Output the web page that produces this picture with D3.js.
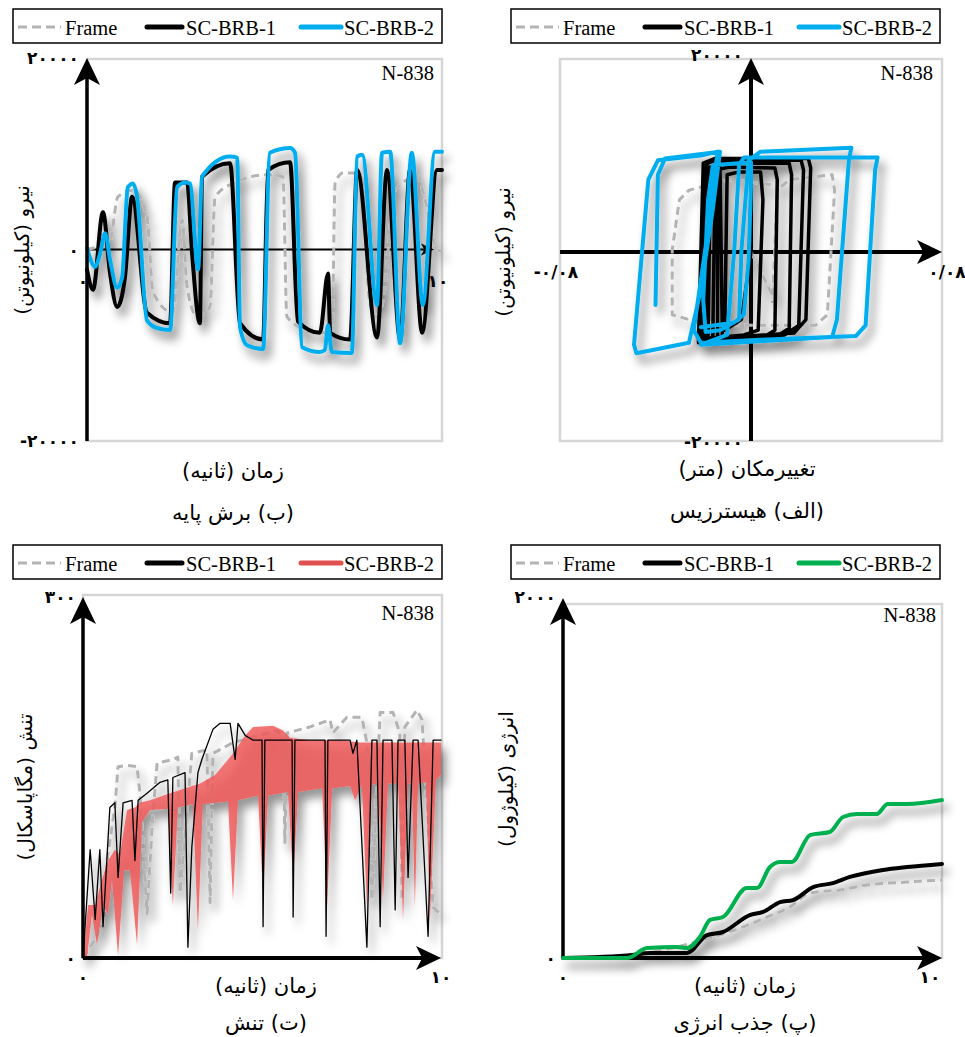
<!DOCTYPE html>
<html>
<head>
<meta charset="utf-8">
<script src="https://cdn.jsdelivr.net/npm/d3@7"></script>
<style>
  body { margin: 0; background: #fff; }
  svg { display: block; }
  .lat { font-family: "Liberation Serif", "Times New Roman", serif; }
  .fa { font-family: "DejaVu Sans", sans-serif; }
</style>
</head>
<body>
<svg id="chart" width="965" height="1037"></svg>
<script>
// ---------- data ----------
// (ب) base shear: [time (s), force (kN)]
const shearFrame = [[0,0],[0.65,1000],[0.87,5500],[1.30,6200],[1.69,3400],[1.86,-4500],[2.42,-6600],[2.68,3100],[2.82,-3900],[3.10,-7000],[3.46,-6000],[3.61,5500],[4.11,6900],[5.07,7800],[5.52,7600],[5.63,-7000],[6.20,-8400],[6.90,-8700],[6.99,6900],[7.21,8000],[7.69,8000],[7.97,-5600],[8.17,-7000],[8.34,-5300],[8.68,6200],[9.32,7600],[9.52,5200],[9.86,0],[10,-200]];
const shearBRB1 = [[0,-2100],[0.17,-4200],[0.45,3900],[0.65,-2500],[0.85,-6000],[1.07,-2900],[1.27,5500],[1.69,-6600],[2.34,-7700],[2.48,7000],[2.82,7000],[2.96,-400],[3.18,-7700],[3.24,7600],[4.03,9000],[4.31,-7700],[4.96,-9400],[5.10,8300],[5.72,9100],[5.94,-7500],[6.56,-8700],[6.79,-2500],[6.85,-8700],[7.41,-9400],[7.61,8300],[8.17,-9200],[8.45,8300],[8.82,-9400],[9.10,8300],[9.44,-8700],[9.86,8300],[10,8300]];
const shearBRB2 = [[0,150],[0.23,-1800],[0.37,-400],[0.51,1700],[0.65,-1100],[0.85,-4000],[0.99,-2900],[1.15,6500],[1.30,6900],[1.41,5500],[1.69,-7400],[1.97,-8200],[2.34,-8400],[2.54,6500],[2.76,7000],[2.90,6900],[3.13,-2100],[3.24,7600],[4.03,9700],[4.23,9600],[4.31,-8100],[4.51,-10000],[4.96,-10400],[5.15,10100],[5.72,10600],[5.86,10100],[6.06,-10200],[6.56,-10700],[6.70,-10500],[6.79,-7900],[6.90,-10700],[7.46,-10800],[7.61,9700],[7.75,9900],[8.17,-5800],[8.31,10100],[8.54,10200],[8.82,-9800],[9.15,10100],[9.46,-5800],[9.80,10200],[10,10200]];

// (الف) hysteresis: [displacement (m), force (kN)]
const hystFrame = [[0,0],[0.010,-5000],[0.011,6400],[0.016,7500],[0.034,8000],[0.035,6400],[0.032,-6500],[0.027,-7600],[-0.009,-7600],[-0.026,-7000],[-0.033,-6500],[-0.033,200],[-0.030,5400],[-0.026,6400],[-0.009,7500],[0.011,6900],[0.009,-5300]];
const hystBRB1 = [[0,0],[-0.004,-7000],[-0.011,-8100],[-0.010,8000],[-0.005,8300],[0.004,8300],[0.005,5400],[0.003,-8100],[-0.003,-8600],[-0.016,-8900],[-0.015,8500],[-0.009,8800],[0.010,8700],[0.011,7500],[0.010,-8100],[0.006,-8700],[-0.019,-9100],[-0.018,8500],[-0.012,9200],[0.016,9200],[0.017,8000],[0.016,-7900],[0.011,-8700],[-0.021,-9300],[-0.020,9000],[-0.015,9500],[0.021,9500],[0.022,8500],[0.020,-7600],[0.014,-8600],[-0.022,-9400],[-0.020,9200],[-0.015,9700],[0.024,9700],[0.025,8700],[0.023,-7000],[0.018,-8400],[-0.013,-8900],[-0.018,-8900],[-0.017,8600],[-0.013,9000],[-0.012,-8800],[-0.020,-9000],[-0.019,8800],[-0.014,8800],[-0.014,-8900]];
const hystBRB2 = [[-0.040,-5500],[-0.039,8000],[-0.036,9700],[-0.013,10400],[-0.016,4400],[-0.021,-3900],[-0.026,-9400],[-0.048,-10500],[-0.049,-9600],[-0.043,7500],[-0.039,9500],[-0.021,10000],[-0.014,10400],[-0.018,2300],[-0.024,-8100],[-0.021,-9400],[0.004,-9100],[0.044,-8700],[0.048,-7600],[0.052,8500],[0.053,9800],[0.046,9800],[-0.003,9800],[-0.005,9000],[-0.007,200],[-0.010,-8600],[-0.021,-9600],[-0.007,-9400],[0.034,-8800],[0.036,-7000],[0.041,9500],[0.042,10800],[0.004,10400],[-0.001,9500],[-0.004,200],[-0.005,-7000],[-0.013,-8100],[-0.019,-8300],[-0.020,-5000],[-0.018,5400],[-0.016,9000],[0.000,9300],[0.000,7100],[-0.001,-800],[-0.003,-6500],[-0.007,-7300],[-0.021,-7800]];

// (ت) stress: [time (s), stress (MPa)]
const stressFrame = [[0,0],[0.56,26],[0.67,81],[0.89,125],[0.98,159],[1.23,160],[1.51,159],[1.59,137],[1.79,37],[1.93,109],[2.07,162],[2.51,165],[2.65,167],[2.71,54],[2.91,123],[3.04,170],[3.46,173],[3.55,46],[3.63,170],[4.19,179],[5.42,189],[5.59,184],[5.64,96],[5.70,187],[6.34,192],[6.90,198],[6.98,187],[7.37,200],[7.79,200],[7.93,179],[8.07,48],[8.30,204],[8.66,204],[8.85,187],[8.91,48],[8.99,192],[9.33,206],[9.47,198],[9.78,42],[10,36]];
const stressBRB1 = [[0,0],[0.20,90],[0.34,32],[0.47,90],[0.56,26],[0.75,125],[0.89,129],[0.98,67],[1.12,129],[1.37,131],[1.45,81],[1.54,131],[1.79,137],[2.15,146],[2.37,148],[2.45,54],[2.51,150],[2.85,154],[2.93,9],[3.04,92],[3.21,154],[3.32,165],[3.63,190],[3.83,195],[4.11,195],[4.25,165],[4.33,195],[4.53,185],[4.75,181],[5.00,181],[5.03,26],[5.08,181],[5.84,181],[5.87,34],[5.92,181],[6.76,181],[6.79,18],[6.84,181],[7.46,181],[7.54,170],[7.65,181],[7.93,9],[8.07,181],[8.21,181],[8.30,26],[8.38,181],[8.63,181],[8.72,40],[8.80,181],[8.99,181],[9.08,67],[9.22,181],[9.36,181],[9.64,18],[9.78,181],[10,181]];
// SC-BRB-2 is drawn as a band: upper edge and lower edge (with the dips)
const stressBRB2Top = [[0,0],[0.14,44],[0.34,44],[0.53,65],[0.70,81],[0.89,90],[1.03,86],[1.23,123],[1.45,125],[1.59,129],[1.87,131],[2.43,137],[3.27,145],[3.69,152],[4.19,170],[4.53,185],[4.75,192],[5.31,193],[5.59,189],[5.78,183],[6.34,181],[7.18,181],[7.74,179],[8.30,179],[9.13,179],[10,179]];
const stressBRB2Bottom = [[0,0],[0.11,0],[0.25,36],[0.39,11],[0.56,44],[0.70,36],[0.81,65],[0.98,2],[1.15,73],[1.31,73],[1.51,11],[1.65,113],[1.87,123],[2.37,124],[2.51,44],[2.65,125],[3.07,128],[3.21,23],[3.35,128],[4.05,130],[4.19,48],[4.33,131],[4.89,135],[5.03,52],[5.17,135],[5.73,138],[5.87,65],[6.01,138],[6.68,141],[6.82,44],[6.96,141],[7.46,143],[7.60,131],[7.79,144],[7.93,44],[8.07,144],[8.24,145],[8.38,48],[8.52,145],[8.80,145],[8.94,32],[9.08,145],[9.19,145],[9.27,42],[9.36,145],[9.58,146],[9.69,30],[9.86,148],[10,152]];

// (پ) energy: [time (s), energy (kJ)]
const energyFrame = [[0,0],[1.69,17],[3.01,61],[3.69,100],[4.75,172],[5.38,227],[5.99,283],[6.52,360],[7.31,377],[8.02,404],[9.08,421],[10,432]];
const energyBRB1 = [[0,0],[1.85,17],[2.30,28],[3.27,28],[3.80,127],[4.22,144],[4.93,238],[5.28,255],[5.73,310],[6.07,321],[6.60,393],[7.12,415],[7.57,449],[8.44,488],[9.08,504],[10,521]];
const energyBRB2 = [[0,0],[1.69,0],[2.22,55],[3.01,61],[3.27,55],[3.61,116],[3.88,211],[4.22,227],[4.85,388],[5.12,388],[5.46,504],[5.73,532],[6.04,532],[6.52,681],[7.04,698],[7.39,781],[7.76,798],[8.28,798],[8.57,853],[9.08,853],[10,875]];

// tick labels
const timeTicks = [0, 10];
const shearTicks = [-20000, 0, 20000];
const hystXTicks = [-0.08, 0.08];
const hystYTicks = [-20000, 20000];
const stressTicks = [0, 300];
const energyTicks = [0, 2000];
const seriesNames = ["Frame", "SC-BRB-1", "SC-BRB-2"];

// ---------- setup ----------
const svg = d3.select("#chart");
const GRAY = "#b3b3b3", BLUE = "#00aeef", RED = "#e0524f", GREEN = "#00b050";
const fa = v => String(v).replace(/\./g, "/").replace(/\d/g, c => "۰۱۲۳۴۵۶۷۸۹"[c]);

// soft drop shadow under the curves
const filt = svg.append("defs").append("filter").attr("id", "shadow")
  .attr("filterUnits", "userSpaceOnUse").attr("x", 0).attr("y", 0).attr("width", 965).attr("height", 1037);
filt.append("feGaussianBlur").attr("in", "SourceAlpha").attr("stdDeviation", 5).attr("result", "b");
filt.append("feOffset").attr("in", "b").attr("dx", 5).attr("dy", 8).attr("result", "o");
filt.append("feComponentTransfer").attr("in", "o").attr("result", "s")
  .append("feFuncA").attr("type", "linear").attr("slope", 0.5);
const mrg = filt.append("feMerge");
mrg.append("feMergeNode").attr("in", "s");
mrg.append("feMergeNode").attr("in", "SourceGraphic");

function legend(x0, y0, c2) {
  const g = svg.append("g").attr("transform", `translate(${x0},${y0})`);
  g.append("rect").attr("width", 429).attr("height", 34).attr("fill", "#fff")
    .attr("stroke", "#000").attr("stroke-width", 1.5);
  const items = [
    {x1: 5, x2: 48, c: GRAY, w: 3, dash: "9,5", tx: 52},
    {x1: 134, x2: 169, c: "#000", w: 5, dash: null, tx: 173},
    {x1: 288, x2: 328, c: c2, w: 5, dash: null, tx: 331}
  ];
  items.forEach((it, i) => {
    g.append("line").attr("x1", it.x1).attr("x2", it.x2).attr("y1", 18).attr("y2", 18)
      .attr("stroke", it.c).attr("stroke-width", it.w).attr("stroke-dasharray", it.dash)
      .attr("stroke-linecap", it.dash ? "butt" : "round");
    g.append("text").attr("class", "lat").attr("x", it.tx).attr("y", 26)
      .attr("font-size", 20.5).text(seriesNames[i]);
  });
}

function frame(x0, y0, x1, y1) {
  svg.append("rect").attr("x", x0).attr("y", y0).attr("width", x1 - x0).attr("height", y1 - y0)
    .attr("fill", "none").attr("stroke", "#d6d6d6").attr("stroke-width", 2.5);
}

function tag(x, y) {
  svg.append("text").attr("class", "lat").attr("x", x).attr("y", y)
    .attr("text-anchor", "end").attr("font-size", 20.5).text("N-838");
}

function faText(x, y, s, size, anchor) {
  return svg.append("text").attr("class", "fa").attr("x", x).attr("y", y)
    .attr("font-size", size).attr("text-anchor", anchor || "middle").text(s);
}

function labels(yl, xl, cap, yx, yy, cx, xlY, capY) {
  svg.append("text").attr("class", "fa").attr("direction", "rtl").attr("text-anchor", "middle")
    .attr("font-size", 20).attr("transform", `translate(${yx},${yy}) rotate(-90)`)
    .attr("dy", "0.35em").text(yl);
  faText(cx, xlY, xl, 21).attr("direction", "rtl");
  faText(cx, capY, cap, 21).attr("direction", "rtl");
}

function arrowUp(x, tip) {
  svg.append("path").attr("fill", "#000")
    .attr("d", `M${x},${tip} L${x + 13},${tip + 27} L${x},${tip + 20} L${x - 13},${tip + 27} Z`);
}
function arrowRight(tip, y, len, half) {
  svg.append("path").attr("fill", "#000")
    .attr("d", `M${tip},${y} L${tip - len},${y - half} L${tip - len * 0.75},${y} L${tip - len},${y + half} Z`);
}

function curve(g, data, x, y, color, width, dash, cv) {
  g.append("path").datum(data).attr("fill", "none").attr("stroke", color)
    .attr("stroke-width", width).attr("stroke-dasharray", dash || null)
    .attr("stroke-linejoin", "round").attr("stroke-linecap", dash ? "butt" : "round")
    .attr("d", d3.line().x(d => x(d[0])).y(d => y(d[1])).curve(cv || d3.curveLinear));
}

// ---------- (ب) base shear ----------
{
  const x = d3.scaleLinear().domain([0, 10]).range([87, 442]);
  const y = d3.scaleLinear().domain([-20000, 20000]).range([441, 58]);
  legend(13, 9, BLUE);
  frame(87, 59, 442, 441);
  tag(434, 80);
  shearTicks.forEach(v => faText(79, y(v) + 6, fa(v), 17, "end").attr("font-weight", "bold"));
  timeTicks.forEach(v => faText(x(v) - 4, y(0) + 37, fa(v), 17).attr("font-weight", "bold"));
  // zero line
  svg.append("line").attr("x1", x(0)).attr("x2", x(10) - 12).attr("y1", y(0)).attr("y2", y(0))
    .attr("stroke", "#000").attr("stroke-width", 2);
  arrowRight(x(10) - 8, y(0), 13, 6);
  const g = svg.append("g").attr("filter", "url(#shadow)");
  curve(g, shearFrame, x, y, GRAY, 3, "8,5", d3.curveMonotoneX);
  curve(g, shearBRB1, x, y, "#000", 4, null, d3.curveMonotoneX);
  curve(g, shearBRB2, x, y, BLUE, 4, null, d3.curveMonotoneX);
  svg.append("line").attr("x1", x(0)).attr("x2", x(0)).attr("y1", 441).attr("y2", 70)
    .attr("stroke", "#000").attr("stroke-width", 3.5);
  arrowUp(x(0), 58);
  labels("نیرو (کیلونیوتن)", "زمان (ثانیه)", "(ب) برش پایه", 22, 250, 233, 478, 520);
}

// ---------- (الف) hysteresis ----------
{
  const x = d3.scaleLinear().domain([-0.08, 0.08]).range([560, 942]);
  const y = d3.scaleLinear().domain([-20000, 20000]).range([445, 59]);
  legend(511, 9, BLUE);
  frame(560, 59, 942, 441);
  tag(933, 80);
  hystYTicks.forEach(v => faText(x(0) - 8, v > 0 ? 61 : 448, fa(v), 17, "end").attr("font-weight", "bold"));
  hystXTicks.forEach(v => faText(x(v) + (v < 0 ? -4 : 5), y(0) + 26, fa(v), 17).attr("font-weight", "bold"));
  svg.append("line").attr("x1", 560).attr("x2", 925).attr("y1", y(0)).attr("y2", y(0))
    .attr("stroke", "#000").attr("stroke-width", 4);
  arrowRight(942, y(0), 25, 12);
  svg.append("line").attr("x1", x(0)).attr("x2", x(0)).attr("y1", 441).attr("y2", 70)
    .attr("stroke", "#000").attr("stroke-width", 4);
  arrowUp(x(0), 58);
  const g = svg.append("g").attr("filter", "url(#shadow)");
  curve(g, hystFrame, x, y, GRAY, 3, "8,5");
  curve(g, hystBRB1, x, y, "#000", 3.5);
  curve(g, hystBRB2, x, y, BLUE, 4);
  labels("نیرو (کیلونیوتن)", "تغییرمکان (متر)", "(الف) هیسترزیس", 503, 252, 747, 476, 518);
}

// ---------- (ت) stress ----------
{
  const x = d3.scaleLinear().domain([0, 10]).range([83, 441]);
  const y = d3.scaleLinear().domain([0, 300]).range([958, 597]);
  legend(13, 545, RED);
  frame(83, 595, 442, 958);
  tag(434, 620);
  stressTicks.forEach(v => faText(76, y(v) + 6, fa(v), 17, "end").attr("font-weight", "bold"));
  timeTicks.forEach(v => faText(x(v), 983, fa(v), 17).attr("font-weight", "bold"));
  const g = svg.append("g").attr("filter", "url(#shadow)");
  curve(g, stressFrame, x, y, GRAY, 3, "8,5");
  const band = stressBRB2Top.concat(stressBRB2Bottom.slice().reverse());
  const bandLine = d3.line().x(d => x(d[0])).y(d => y(d[1]));
  g.append("path").datum(band).attr("fill", "#ef5757").attr("fill-opacity", 0.82)
    .attr("d", bandLine(band) + "Z");
  curve(g, stressBRB1, x, y, "#000", 1.3);
  svg.append("line").attr("x1", x(0)).attr("x2", 425).attr("y1", 958).attr("y2", 958)
    .attr("stroke", "#000").attr("stroke-width", 4);
  arrowRight(441, 958, 25, 12);
  svg.append("line").attr("x1", x(0)).attr("x2", x(0)).attr("y1", 958).attr("y2", 610)
    .attr("stroke", "#000").attr("stroke-width", 3.5);
  arrowUp(x(0), 597);
  labels("تنش (مگاپاسکال)", "زمان (ثانیه)", "(ت) تنش", 25, 787, 266, 993, 1030);
}

// ---------- (پ) energy ----------
{
  const x = d3.scaleLinear().domain([0, 10]).range([563, 942]);
  const y = d3.scaleLinear().domain([0, 2000]).range([958, 597]);
  legend(511, 545, GREEN);
  frame(563, 604, 942, 958);
  tag(936, 622);
  energyTicks.forEach(v => faText(556, y(v) + 6, fa(v), 17, "end").attr("font-weight", "bold"));
  timeTicks.forEach(v => faText(v ? x(v) - 12 : x(v), 983, fa(v), 17).attr("font-weight", "bold"));
  svg.append("line").attr("x1", x(0)).attr("x2", 925).attr("y1", 958).attr("y2", 958)
    .attr("stroke", "#000").attr("stroke-width", 4);
  arrowRight(942, 958, 25, 12);
  svg.append("line").attr("x1", x(0)).attr("x2", x(0)).attr("y1", 958).attr("y2", 610)
    .attr("stroke", "#000").attr("stroke-width", 3.5);
  arrowUp(x(0), 598);
  const g = svg.append("g").attr("filter", "url(#shadow)");
  curve(g, energyFrame, x, y, GRAY, 3, "8,5", d3.curveMonotoneX);
  curve(g, energyBRB1, x, y, "#000", 4, null, d3.curveMonotoneX);
  curve(g, energyBRB2, x, y, GREEN, 4, null, d3.curveMonotoneX);
  labels("انرژی (کیلوژول)", "زمان (ثانیه)", "(پ) جذب انرژی", 506, 779, 745, 993, 1030);
}
</script>
</body>
</html>
